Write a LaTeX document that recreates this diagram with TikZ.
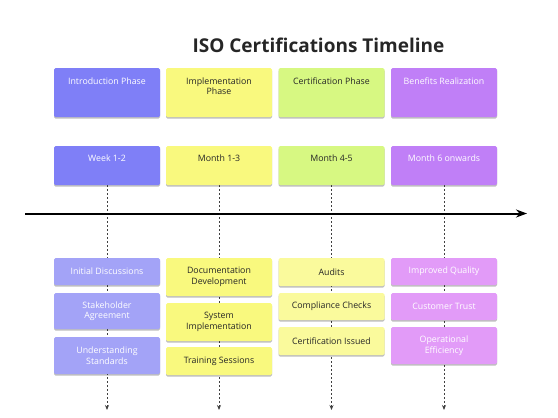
\documentclass[tikz,border=0pt]{standalone}
\usepackage{fontspec}
\setmainfont{Open Sans}
\usetikzlibrary{arrows.meta,backgrounds,shadows}
\definecolor{cblue}{HTML}{7F7FF7}
\definecolor{cblueL}{HTML}{A3A3F7}
\definecolor{cyel}{HTML}{F9F97E}
\definecolor{cyelL}{HTML}{FAFA9C}
\definecolor{cgreen}{HTML}{D7F882}
\definecolor{cpurp}{HTML}{C07FF7}
\definecolor{cpurpL}{HTML}{E29BF8}
\tikzset{
  box/.style={rectangle, rounded corners=1.5pt, minimum width=106pt, inner sep=0pt, outer sep=0pt,
    drop shadow={shadow xshift=0pt, shadow yshift=-1.5pt, opacity=0.25, fill=black}},
  txt/.style={font=\fontsize{8.8}{10.5}\selectfont, align=center, inner sep=0pt},
  wt/.style={txt, text=white},
  bk/.style={txt, text=black!85},
  guide/.style={draw=black!75, line width=0.9pt, dash pattern=on 2pt off 2pt, -{Stealth[length=5pt,width=4pt]}},
}
\begin{document}
\begin{tikzpicture}[x=1pt,y=-1pt]
\useasboundingbox (0,0) rectangle (558,418);
\node[font=\fontsize{19}{22}\selectfont\bfseries, text=black!85] (title) at (318.5,45) {ISO Certifications Timeline};
% header row
\node[box, fill=cblue, minimum height=49pt] (h1) at (107,92.5) {};
\node[box, fill=cyel, minimum height=49pt] (h2) at (219,92.5) {};
\node[box, fill=cgreen, minimum height=49pt] (h3) at (331.5,92.5) {};
\node[box, fill=cpurp, minimum height=49pt] (h4) at (444,92.5) {};
\node[wt, anchor=north] (h1t) at ([yshift=-9.5pt]h1.north) {Introduction Phase};
\node[bk, anchor=north] (h2t) at ([yshift=-9.5pt]h2.north) {Implementation\\Phase};
\node[bk, anchor=north] (h3t) at ([yshift=-9.5pt]h3.north) {Certification Phase};
\node[wt, anchor=north] (h4t) at ([yshift=-9.5pt]h4.north) {Benefits Realization};
% period row
\node[box, fill=cblue, minimum height=39pt] (r1) at (107,165.5) {};
\node[box, fill=cyel, minimum height=39pt] (r2) at (219,165.5) {};
\node[box, fill=cgreen, minimum height=39pt] (r3) at (331.5,165.5) {};
\node[box, fill=cpurp, minimum height=39pt] (r4) at (444,165.5) {};
\node[wt, anchor=north] (r1t) at ([yshift=-8.5pt]r1.north) {Week 1-2};
\node[bk, anchor=north] (r2t) at ([yshift=-8.5pt]r2.north) {Month 1-3};
\node[bk, anchor=north] (r3t) at ([yshift=-8.5pt]r3.north) {Month 4-5};
\node[wt, anchor=north] (r4t) at ([yshift=-8.5pt]r4.north) {Month 6 onwards};
% timeline
\coordinate (tl0) at (25,213.5);
\coordinate (tl1) at (527,213.5);
\draw[line width=2pt, -{Stealth[length=11pt,width=8pt]}] (tl0) -- (tl1);
% column 1
\node[box, fill=cblueL, minimum height=27pt] (a1) at (107,271.5) {};
\node[wt] at (a1) {Initial Discussions};
\node[box, fill=cblueL, minimum height=36pt] (a2) at (107,311) {};
\node[wt] at (a2) {Stakeholder\\Agreement};
\node[box, fill=cblueL, minimum height=37pt] (a3) at (107,355.5) {};
\node[wt] at (a3) {Understanding\\Standards};
% column 2
\node[box, fill=cyel, minimum height=38pt] (b1) at (219,277) {};
\node[bk] at (b1) {Documentation\\Development};
\node[box, fill=cyel, minimum height=38pt] (b2) at (219,322) {};
\node[bk] at (b2) {System\\Implementation};
\node[box, fill=cyel, minimum height=28pt] (b3) at (219,361) {};
\node[bk] at (b3) {Training Sessions};
% column 3
\node[box, fill=cyelL, minimum height=28pt] (c1) at (331.5,272) {};
\node[bk] at (c1) {Audits};
\node[box, fill=cyelL, minimum height=27pt] (c2) at (331.5,306.5) {};
\node[bk] at (c2) {Compliance Checks};
\node[box, fill=cyelL, minimum height=28pt] (c3) at (331.5,341) {};
\node[bk] at (c3) {Certification Issued};
% column 4
\node[box, fill=cpurpL, minimum height=27pt] (d1) at (444,271.5) {};
\node[wt] at (d1) {Improved Quality};
\node[box, fill=cpurpL, minimum height=27pt] (d2) at (444,306.5) {};
\node[wt] at (d2) {Customer Trust};
\node[box, fill=cpurpL, minimum height=37pt] (d3) at (444,345.5) {};
\node[wt] at (d3) {Operational\\Efficiency};
% guide lines
\coordinate (e1) at (107,410);
\coordinate (e2) at (219,410);
\coordinate (e3) at (331.5,410);
\coordinate (e4) at (444,410);
\begin{scope}[on background layer]
\draw[guide] (r1.south) -- (e1);
\draw[guide] (r2.south) -- (e2);
\draw[guide] (r3.south) -- (e3);
\draw[guide] (r4.south) -- (e4);
\end{scope}
\end{tikzpicture}
\end{document}
